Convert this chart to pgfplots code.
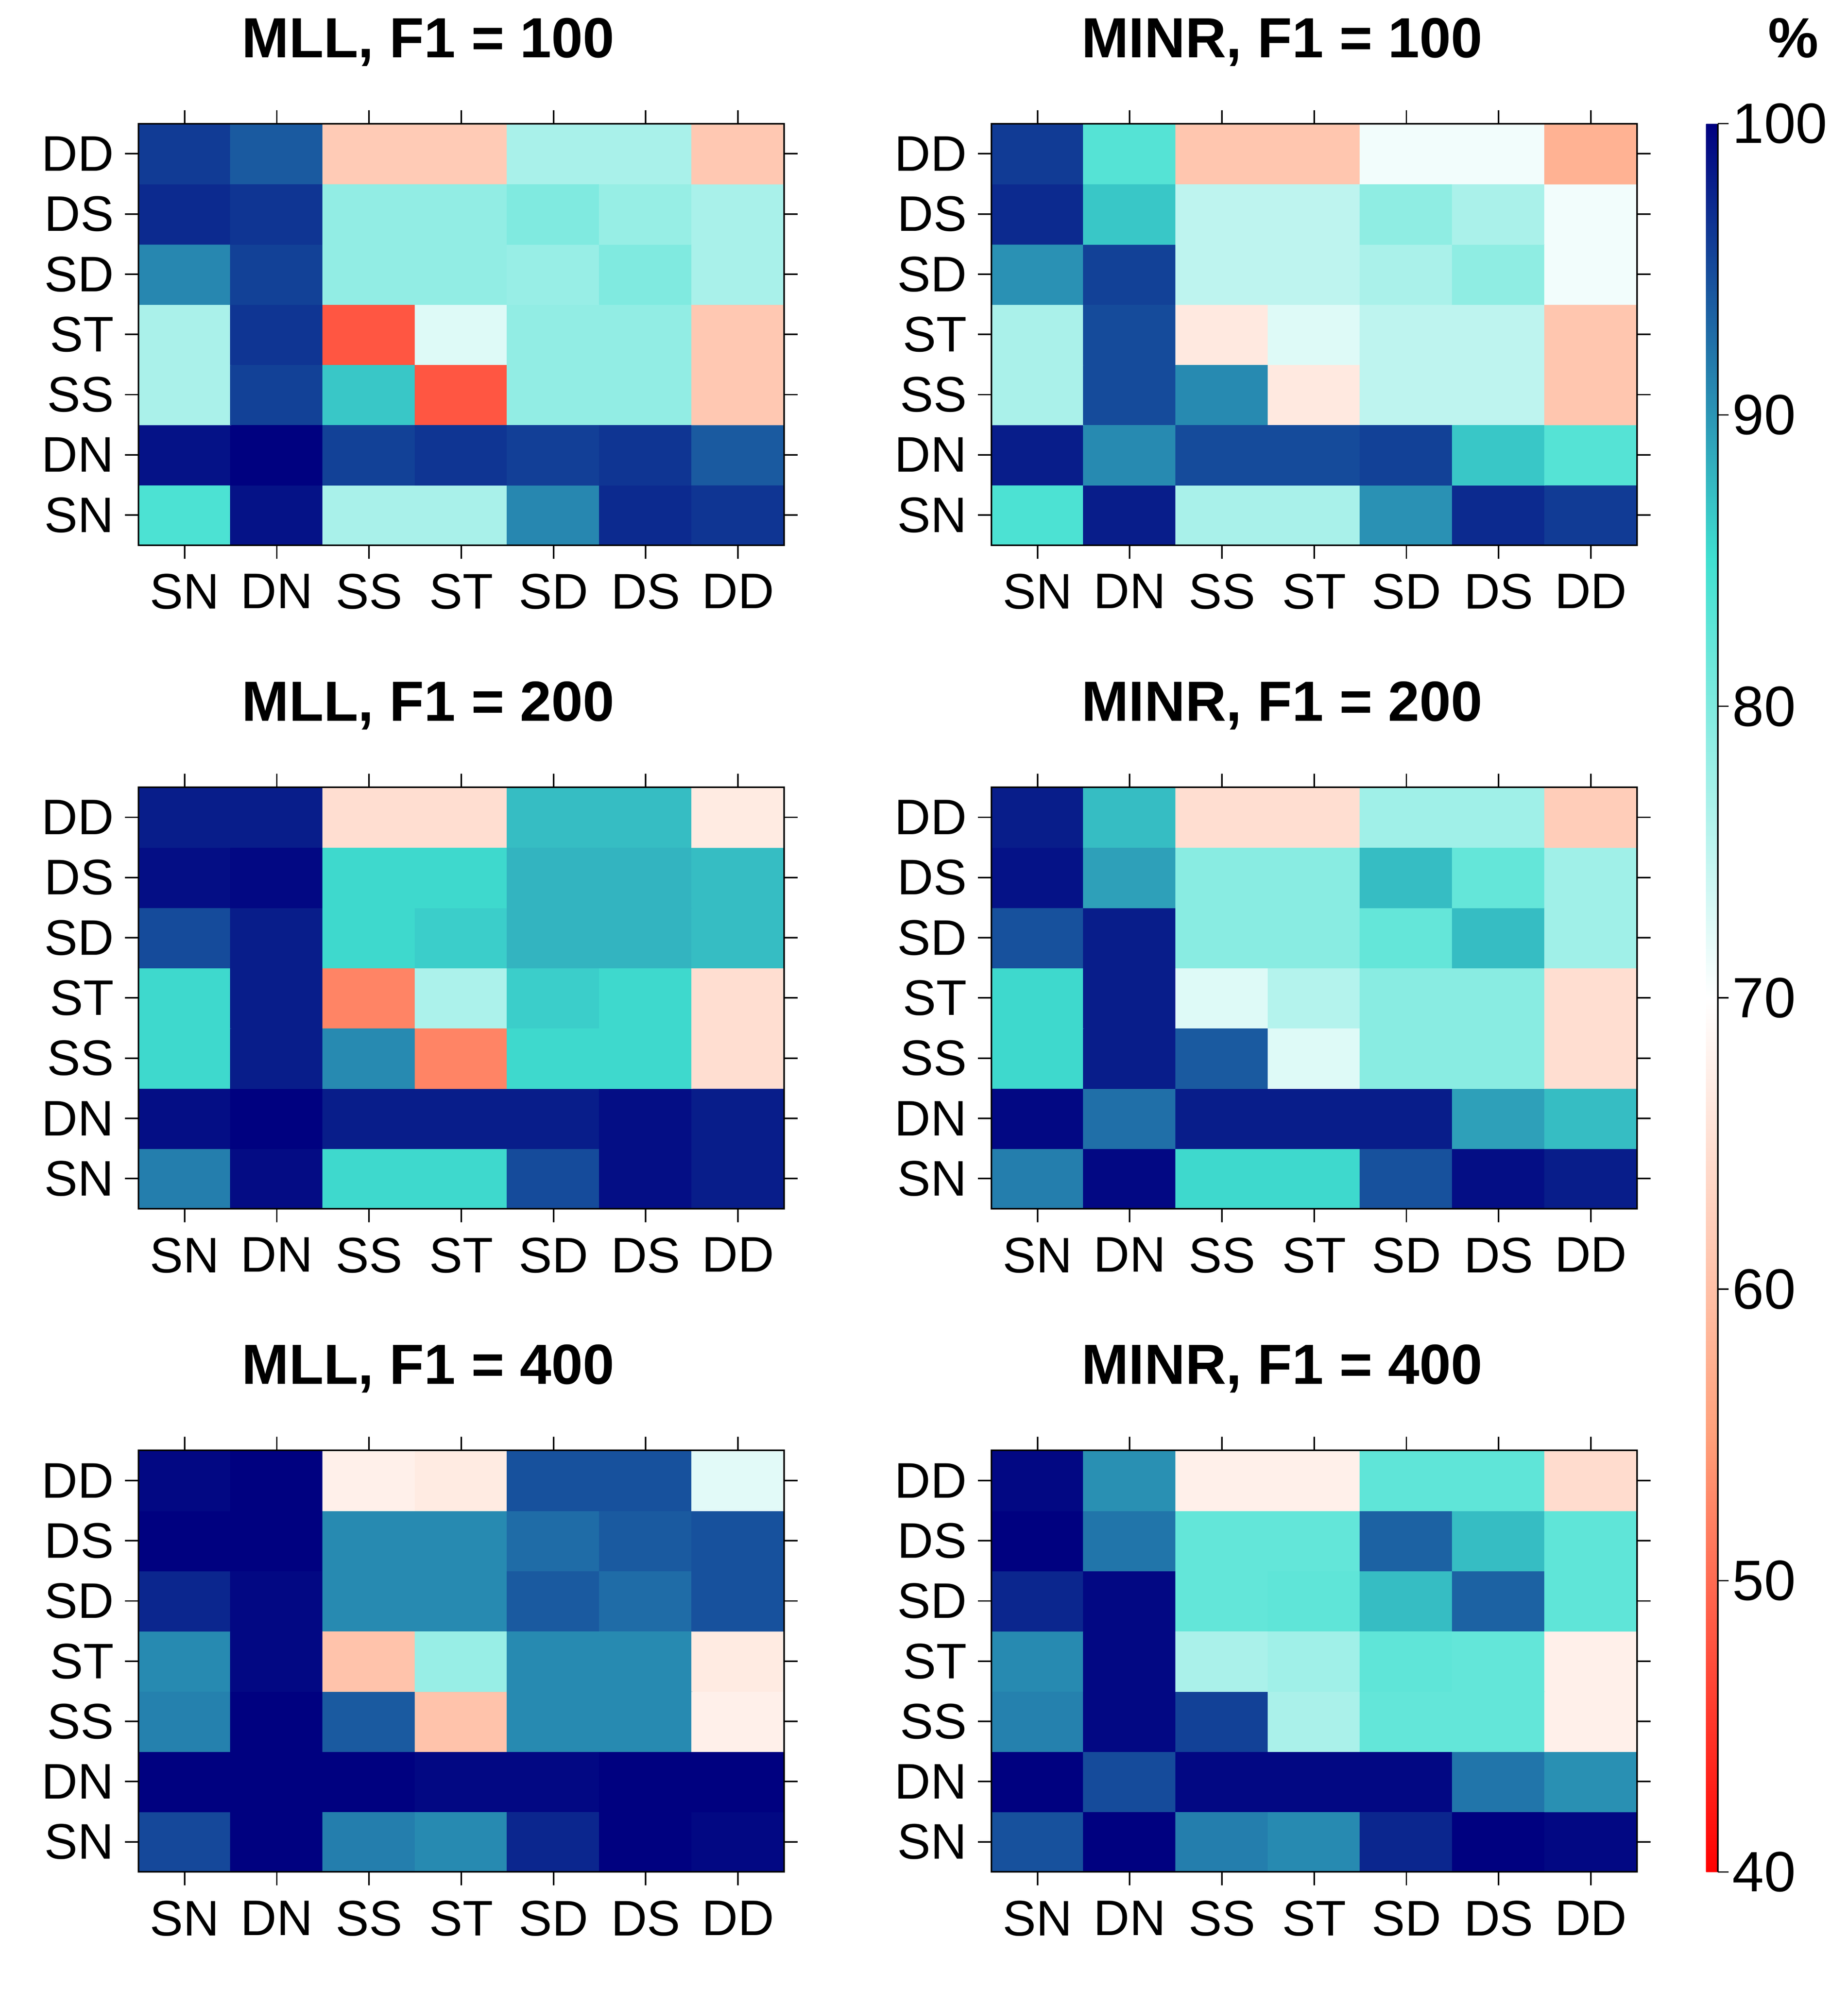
\documentclass[border=0pt]{standalone}
\usepackage{fontspec}
\setmainfont{Liberation Sans}
\usepackage{pgfplots}
\usepackage{pgfplotstable}
\pgfplotsset{compat=1.18}

\pgfplotstableread[row sep=\\]{
x y c\\
0 0 84.1\\ 1 0 98.8\\ 2 0 76.8\\ 3 0 76.8\\ 4 0 91.0\\ 5 0 97.2\\ 6 0 96.5\\
0 1 98.8\\ 1 1 100\\ 2 1 95.7\\ 3 1 96.5\\ 4 1 95.8\\ 5 1 96.5\\ 6 1 94.0\\
0 2 76.7\\ 1 2 95.7\\ 2 2 86.7\\ 3 2 48.1\\ 4 2 78.6\\ 5 2 78.6\\ 6 2 61.3\\
0 3 76.7\\ 1 3 96.5\\ 2 3 48.1\\ 3 3 72.6\\ 4 3 78.6\\ 5 3 78.6\\ 6 3 61.3\\
0 4 91.0\\ 1 4 95.7\\ 2 4 78.6\\ 3 4 78.6\\ 4 4 78.1\\ 5 4 80.0\\ 6 4 76.8\\
0 5 97.2\\ 1 5 96.5\\ 2 5 78.6\\ 3 5 78.6\\ 4 5 80.0\\ 5 5 78.2\\ 6 5 76.8\\
0 6 96.1\\ 1 6 94.0\\ 2 6 61.8\\ 3 6 61.8\\ 4 6 76.8\\ 5 6 76.8\\ 6 6 61.3\\
}\mllA

\pgfplotstableread[row sep=\\]{
x y c\\
0 0 84.1\\ 1 0 98.1\\ 2 0 76.8\\ 3 0 76.8\\ 4 0 90.3\\ 5 0 97.2\\ 6 0 96.1\\
0 1 98.1\\ 1 1 90.8\\ 2 1 95.0\\ 3 1 95.0\\ 4 1 95.7\\ 5 1 86.7\\ 6 1 83.4\\
0 2 76.7\\ 1 2 95.0\\ 2 2 90.8\\ 3 2 66.5\\ 4 2 75.1\\ 5 2 75.1\\ 6 2 61.0\\
0 3 76.7\\ 1 3 95.0\\ 2 3 66.5\\ 3 3 72.6\\ 4 3 75.1\\ 5 3 75.1\\ 6 3 61.0\\
0 4 90.3\\ 1 4 95.7\\ 2 4 75.1\\ 3 4 75.1\\ 4 4 76.7\\ 5 4 78.8\\ 6 4 71.0\\
0 5 97.2\\ 1 5 86.7\\ 2 5 75.1\\ 3 5 75.1\\ 4 5 78.8\\ 5 5 76.7\\ 6 5 71.0\\
0 6 96.1\\ 1 6 83.4\\ 2 6 61.0\\ 3 6 61.0\\ 4 6 71.0\\ 5 6 71.0\\ 6 6 57.8\\
}\minrA

\pgfplotstableread[row sep=\\]{
x y c\\
0 0 91.6\\ 1 0 99.2\\ 2 0 85.5\\ 3 0 85.5\\ 4 0 95.0\\ 5 0 99.1\\ 6 0 98.1\\
0 1 99.1\\ 1 1 100\\ 2 1 98.1\\ 3 1 98.1\\ 4 1 98.1\\ 5 1 99.1\\ 6 1 98.1\\
0 2 85.5\\ 1 2 98.1\\ 2 2 90.8\\ 3 2 52.4\\ 4 2 85.5\\ 5 2 85.5\\ 6 2 64.8\\
0 3 85.5\\ 1 3 98.1\\ 2 3 52.4\\ 3 3 76.5\\ 4 3 86.2\\ 5 3 85.5\\ 6 3 64.8\\
0 4 95.0\\ 1 4 98.1\\ 2 4 85.5\\ 3 4 86.2\\ 4 4 88.0\\ 5 4 88.0\\ 6 4 87.4\\
0 5 99.1\\ 1 5 99.5\\ 2 5 85.5\\ 3 5 85.5\\ 4 5 88.0\\ 5 5 88.0\\ 6 5 87.4\\
0 6 98.1\\ 1 6 98.1\\ 2 6 64.8\\ 3 6 64.8\\ 4 6 87.4\\ 5 6 87.4\\ 6 6 66.8\\
}\mllB

\pgfplotstableread[row sep=\\]{
x y c\\
0 0 91.6\\ 1 0 99.5\\ 2 0 85.5\\ 3 0 85.5\\ 4 0 94.6\\ 5 0 99.1\\ 6 0 98.1\\
0 1 99.5\\ 1 1 92.6\\ 2 1 98.1\\ 3 1 98.1\\ 4 1 98.1\\ 5 1 89.3\\ 6 1 87.4\\
0 2 85.5\\ 1 2 98.1\\ 2 2 94.0\\ 3 2 72.6\\ 4 2 79.3\\ 5 2 79.3\\ 6 2 64.8\\
0 3 85.5\\ 1 3 98.1\\ 2 3 72.6\\ 3 3 75.9\\ 4 3 79.3\\ 5 3 79.3\\ 6 3 64.8\\
0 4 94.6\\ 1 4 98.1\\ 2 4 79.3\\ 3 4 79.3\\ 4 4 82.2\\ 5 4 87.4\\ 6 4 77.5\\
0 5 98.8\\ 1 5 89.3\\ 2 5 79.3\\ 3 5 79.3\\ 4 5 87.4\\ 5 5 82.2\\ 6 5 77.5\\
0 6 98.1\\ 1 6 87.4\\ 2 6 64.8\\ 3 6 64.8\\ 4 6 77.5\\ 5 6 77.5\\ 6 6 62.1\\
}\minrB

\pgfplotstableread[row sep=\\]{
x y c\\
0 0 95.2\\ 1 0 100\\ 2 0 91.6\\ 3 0 90.8\\ 4 0 97.5\\ 5 0 100\\ 6 0 99.5\\
0 1 100\\ 1 1 100\\ 2 1 100\\ 3 1 99.5\\ 4 1 99.5\\ 5 1 100\\ 6 1 100\\
0 2 91.4\\ 1 2 100\\ 2 2 94.0\\ 3 2 60.5\\ 4 2 90.8\\ 5 2 90.8\\ 6 2 67.6\\
0 3 90.8\\ 1 3 99.5\\ 2 3 60.5\\ 3 3 78.1\\ 4 3 90.8\\ 5 3 90.8\\ 6 3 66.8\\
0 4 97.5\\ 1 4 99.5\\ 2 4 90.8\\ 3 4 90.8\\ 4 4 94.0\\ 5 4 92.8\\ 6 4 94.6\\
0 5 100\\ 1 5 100\\ 2 5 90.8\\ 3 5 90.8\\ 4 5 92.8\\ 5 5 94.0\\ 6 5 94.6\\
0 6 99.5\\ 1 6 100\\ 2 6 67.6\\ 3 6 66.8\\ 4 6 94.6\\ 5 6 94.6\\ 6 6 72.3\\
}\mllC

\pgfplotstableread[row sep=\\]{
x y c\\
0 0 94.6\\ 1 0 100\\ 2 0 91.6\\ 3 0 90.8\\ 4 0 97.5\\ 5 0 100\\ 6 0 99.5\\
0 1 100\\ 1 1 95.0\\ 2 1 99.5\\ 3 1 99.5\\ 4 1 99.5\\ 5 1 92.2\\ 6 1 90.4\\
0 2 91.4\\ 1 2 99.5\\ 2 2 95.7\\ 3 2 76.7\\ 4 2 82.3\\ 5 2 82.3\\ 6 2 67.6\\
0 3 90.8\\ 1 3 99.5\\ 2 3 76.7\\ 3 3 77.5\\ 4 3 82.6\\ 5 3 82.3\\ 6 3 67.6\\
0 4 97.5\\ 1 4 99.5\\ 2 4 82.3\\ 3 4 82.6\\ 4 4 87.4\\ 5 4 93.5\\ 6 4 82.6\\
0 5 100\\ 1 5 92.2\\ 2 5 82.3\\ 3 5 82.3\\ 4 5 93.5\\ 5 5 87.4\\ 6 5 82.6\\
0 6 99.5\\ 1 6 90.4\\ 2 6 67.6\\ 3 6 67.6\\ 4 6 82.6\\ 5 6 82.6\\ 6 6 64.5\\
}\minrC

\pgfplotsset{
  colormap={hm}{rgb255(0)=(255,0,0) rgb255(15)=(255,160,122) rgb255(30)=(255,255,255) rgb255(45)=(64,224,208) rgb255(60)=(0,0,128)},
  hm/.style={
    scale only axis, width=253.3pt, height=165.36pt,
    xmin=-0.5, xmax=6.5, ymin=-0.5, ymax=6.5,
    xtick={0,...,6}, ytick={0,...,6},
    xticklabels={SN,DN,SS,ST,SD,DS,DD},
    yticklabels={SN,DN,SS,ST,SD,DS,DD},
    tick align=outside, major tick length=5.3pt,
    tick style={line width=0.6pt, black},
    axis line style={line width=0.65pt},
    ticklabel style={font=\fontsize{19.6}{23}\selectfont},
    x tick label style={yshift=-2.5pt},
    y tick label style={xshift=-0.8pt},
    point meta min=40, point meta max=100,
    colormap name=hm,
    anchor=north west,
    axis on top,
  },
}
\tikzset{ttl/.style={font=\bfseries\fontsize{22.2}{26}\selectfont, anchor=base}}

\begin{document}
\begin{tikzpicture}
\useasboundingbox (0,0) rectangle (725pt,-780.77pt);

\begin{axis}[hm, at={(54.32pt,-48.52pt)}]
\addplot[matrix plot*, mesh/cols=7, point meta=explicit] table[meta=c]{\mllA};
\end{axis}

\begin{axis}[hm, at={(388.93pt,-48.52pt)},
  colorbar,
  colorbar style={
    scale only axis,
    at={(1.1072,1)}, anchor=north west,
    width=4.6pt, height=685.9pt,
    ymin=40, ymax=100,
    ytick={40,50,60,70,80,90,100},
    yticklabels={40,50,60,70,80,90,100},
    axis y line*=right, axis x line=none,
    tick align=outside, major tick length=4.2pt,
    ytick style={line width=0.5pt, black},
    y axis line style={line width=0.7pt},
    yticklabel style={font=\fontsize{22.3}{26}\selectfont, xshift=-2pt},
  }]
\addplot[matrix plot*, mesh/cols=7, point meta=explicit] table[meta=c]{\minrA};
\end{axis}

\begin{axis}[hm, at={(54.32pt,-308.85pt)}]
\addplot[matrix plot*, mesh/cols=7, point meta=explicit] table[meta=c]{\mllB};
\end{axis}

\begin{axis}[hm, at={(388.93pt,-308.85pt)}]
\addplot[matrix plot*, mesh/cols=7, point meta=explicit] table[meta=c]{\minrB};
\end{axis}

\begin{axis}[hm, at={(54.32pt,-569.07pt)}]
\addplot[matrix plot*, mesh/cols=7, point meta=explicit] table[meta=c]{\mllC};
\end{axis}

\begin{axis}[hm, at={(388.93pt,-569.07pt)}]
\addplot[matrix plot*, mesh/cols=7, point meta=explicit] table[meta=c]{\minrC};
\end{axis}

\node[ttl] at (168pt,-22.5pt) {MLL, F1 = 100};
\node[ttl] at (503pt,-22.5pt) {MINR, F1 = 100};
\node[ttl] at (168pt,-282.85pt) {MLL, F1 = 200};
\node[ttl] at (503pt,-282.85pt) {MINR, F1 = 200};
\node[ttl] at (168pt,-543.07pt) {MLL, F1 = 400};
\node[ttl] at (503pt,-543.07pt) {MINR, F1 = 400};
\node[ttl] at (703.5pt,-22.5pt) {\%};
\end{tikzpicture}
\end{document}
